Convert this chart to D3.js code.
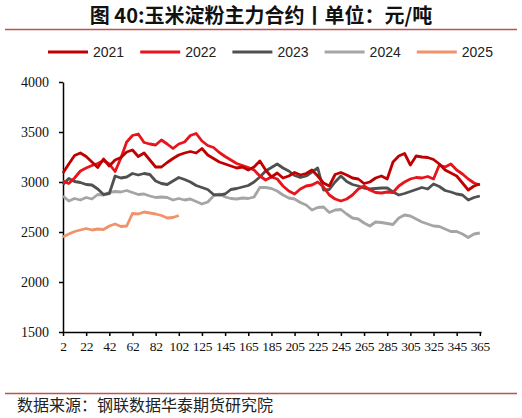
<!DOCTYPE html>
<html>
<head>
<meta charset="utf-8">
<script src="https://cdn.jsdelivr.net/npm/d3@7"></script>
<style>
  body { margin: 0; background: #fff; }
  svg { display: block; }
</style>
</head>
<body>
<svg id="chart" width="522" height="418"></svg>
<script>
// x-axis tick labels (every 20th trading day)
var tickLabels = [2, 22, 42, 62, 82, 102, 125, 145, 165, 185, 205, 225, 245, 265, 285, 305, 325, 345, 365];
var years = ["2021", "2022", "2023", "2024", "2025"];
var sampleStep = 5; // one value read every 5 points

var s2021 = [3090, 3180, 3265, 3290, 3255, 3200, 3145, 3230, 3160,
  3220, 3245, 3300, 3320, 3255, 3290, 3220, 3150, 3150, 3195, 3235, 3270, 3290, 3305, 3290, 3335, 3270,
  3235, 3200, 3180, 3160, 3140, 3150, 3120, 3150, 3210, 3120,
  3050, 3090, 3040, 3060, 3095, 3070, 3085, 3120, 3060, 2990, 2960, 3075, 3095, 3070, 3040, 3030,
  2985, 3000, 3040, 3060, 3030, 3200, 3260, 3285, 3170, 3260, 3250, 3245, 3225, 3180, 3120, 3090,
  3060, 2990, 2920, 2960, 2980];
var s2022 = [3010, 2985, 3040, 3110, 3140, 3165, 3185, 3215, 3180,
  3105, 3240, 3400, 3465, 3480, 3395, 3380, 3370, 3420, 3380, 3335, 3380, 3400, 3465, 3485, 3410, 3365,
  3345, 3295, 3255, 3220, 3185, 3165, 3145, 3120, 3060, 3020,
  3050, 3030, 2960, 2910, 2880, 2930, 2960, 2970, 3000, 2950, 2870, 2830, 2810, 2830, 2870, 2930,
  2960, 2920, 2895, 2890, 2900, 2895, 2960, 3000, 3030, 3045, 3040, 3055, 3030, 3170, 3150, 3180,
  3120, 3080, 3030, 2990, 2970];
var s2023 = [2975, 3035, 3005, 2995, 2975, 2970, 2930, 2875, 2885, 3060, 3040, 3050, 3085, 3070, 3085,
  3075, 3010, 2985, 2975, 3010, 3045, 3025, 3000, 2965, 2945, 2925, 2875, 2870, 2880, 2925, 2935,
  2950, 2965, 3000, 3050, 3110, 3145, 3180, 3140, 3110, 3065, 3045, 3060, 3100, 3140, 2920, 2925,
  3000, 3060, 3005, 2975, 2960, 2940, 2930, 2935, 2940, 2940, 2900, 2870, 2885, 2905, 2925, 2945,
  2930, 2980, 2955, 2915, 2900, 2880, 2870, 2820, 2845, 2860];
var s2024 = [2860, 2810, 2835, 2820, 2845, 2830, 2875, 2870, 2895, 2905, 2900, 2915, 2895, 2875, 2880,
  2860, 2845, 2850, 2845, 2820, 2835, 2820, 2830, 2805, 2780, 2800, 2860, 2880, 2850, 2835, 2830,
  2840, 2835, 2850, 2945, 2945, 2935, 2910, 2870, 2840, 2830, 2795, 2770, 2720, 2745, 2750, 2695,
  2720, 2725, 2680, 2640, 2630, 2590, 2560, 2600, 2595, 2585, 2575, 2640, 2670, 2660, 2630, 2600,
  2580, 2560, 2555, 2530, 2505, 2505, 2480, 2445, 2480, 2490];
var s2025 = [2450, 2480, 2505, 2520, 2535, 2520, 2530, 2525, 2560, 2580, 2555, 2560, 2685, 2680, 2700,
  2690, 2680, 2665, 2640, 2645, 2665];

var seriesValues = [s2021, s2022, s2023, s2024, s2025];
var colors = ["#c00000", "#e8141b", "#505050", "#a5a5a5", "#f0926a"];
var yTicks = [1500, 2000, 2500, 3000, 3500, 4000];

var svg = d3.select("#chart");
var ruleColor = "#c0504d";

// title
svg.append("text")
    .attr("x", 261).attr("y", 23)
    .attr("text-anchor", "middle")
    .style("font-family", "'Noto Sans CJK SC', sans-serif")
    .style("font-size", "20px")
    .style("font-weight", "bold")
    .attr("fill", "#111")
    .text("图 40:玉米淀粉主力合约丨单位：元/吨");

svg.append("line")
    .attr("x1", 5).attr("x2", 517).attr("y1", 29.5).attr("y2", 29.5)
    .attr("stroke", ruleColor).attr("stroke-width", 1.5);

// legend
var legend = svg.append("g").attr("transform", "translate(48,52)");
years.forEach(function (y, i) {
    var g = legend.append("g").attr("transform", "translate(" + (i * 92.2) + ",0)");
    g.append("line")
        .attr("x1", 0).attr("x2", 40).attr("y1", 0).attr("y2", 0)
        .attr("stroke", colors[i]).attr("stroke-width", 3);
    g.append("text")
        .attr("x", 45).attr("y", 5)
        .style("font-family", "'Liberation Sans', Arial, sans-serif")
        .style("font-size", "14px")
        .attr("fill", "#222")
        .text(y);
});

// scales
var x = d3.scaleLinear().domain([0, 361]).range([63, 481]);
var y = d3.scaleLinear().domain([1500, 4000]).range([332, 82]);

var yAxis = d3.axisLeft(y).tickValues(yTicks).tickFormat(d3.format("d"))
    .tickSize(4).tickSizeOuter(0).tickPadding(10);
var gy = svg.append("g").attr("transform", "translate(63,0)").call(yAxis);

var xAxis = d3.axisBottom(x)
    .tickValues(tickLabels.map(function (d, i) { return i * 20; }))
    .tickFormat(function (d, i) { return tickLabels[i]; })
    .tickSize(4).tickSizeOuter(0).tickPadding(5);
var gx = svg.append("g").attr("transform", "translate(0,332)").call(xAxis);

[gx, gy].forEach(function (g) {
    g.select(".domain").attr("stroke", "#000").attr("stroke-width", 1.5);
    g.selectAll(".tick line").attr("stroke", "#000").attr("stroke-width", 1.5);
    g.selectAll(".tick text")
        .style("font-family", "'Liberation Serif', 'Times New Roman', serif")
        .style("font-size", "14px")
        .attr("fill", "#111");
});
gx.selectAll(".tick text").style("font-size", "13.5px").style("letter-spacing", "-0.3px");

// lines
var line = d3.line()
    .x(function (d, i) { return x(i * sampleStep); })
    .y(function (d) { return y(d); });

// draw older years on top of newer ones like the source
var order = [4, 3, 2, 1, 0];
order.forEach(function (idx) {
    svg.append("path")
        .datum(seriesValues[idx])
        .attr("fill", "none")
        .attr("stroke", colors[idx])
        .attr("stroke-width", 2.8)
        .attr("stroke-linejoin", "round")
        .attr("d", line);
});

// footer
svg.append("line")
    .attr("x1", 5).attr("x2", 517).attr("y1", 393.5).attr("y2", 393.5)
    .attr("stroke", ruleColor).attr("stroke-width", 1.5);

svg.append("text")
    .attr("x", 17).attr("y", 411)
    .style("font-family", "'Noto Sans CJK SC', sans-serif")
    .style("font-size", "16px")
    .attr("fill", "#222")
    .text("数据来源：钢联数据华泰期货研究院");
</script>
</body>
</html>
